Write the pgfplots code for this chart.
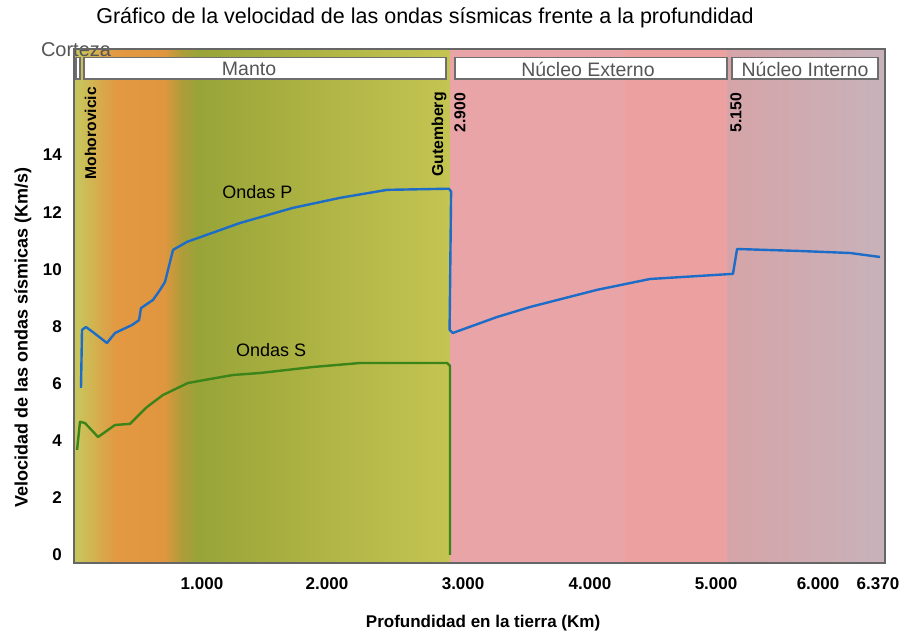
\documentclass[border=0pt]{standalone}
\usepackage{fontspec}
\setmainfont{Liberation Sans}
\usepackage{pgfplots}
\pgfplotsset{compat=1.18}
\definecolor{pcol}{RGB}{28,108,200}
\definecolor{scol}{RGB}{58,132,26}
\definecolor{crust}{RGB}{200,196,92}
\definecolor{m0}{RGB}{202,194,90}
\definecolor{m1}{RGB}{214,172,76}
\definecolor{m2}{RGB}{227,152,66}
\definecolor{m3}{RGB}{224,150,62}
\definecolor{m4}{RGB}{176,156,58}
\definecolor{m5}{RGB}{152,164,56}
\definecolor{m6}{RGB}{172,178,66}
\definecolor{m7}{RGB}{196,196,82}
\definecolor{o1}{RGB}{232,164,166}
\definecolor{o2}{RGB}{236,160,160}
\definecolor{i1}{RGB}{213,164,168}
\definecolor{i2}{RGB}{200,178,186}
\definecolor{boxgray}{RGB}{110,110,110}
\definecolor{txtgray}{RGB}{85,85,85}
\newcommand\fsz[1]{\fontsize{#1bp}{#1bp}\selectfont}
\begin{document}
\begin{tikzpicture}
\path[use as bounding box] (0,0) rectangle (907bp,639bp);
\begin{axis}[
  at={(74bp,76bp)}, anchor=south west,
  width=811bp, height=514bp, scale only axis,
  xmin=0, xmax=6370, ymin=-0.28, ymax=17.71,
  xtick={1005,1987,3056,4053,5043,5844,6315},
  xticklabels={1.000,2.000,3.000,4.000,5.000,6.000,6.370},
  ytick={0,2,4,6,8,10,12,14},
  major tick length=0pt, minor tick num=0,
  axis on top, clip=false,
  axis line style={draw=black!60, line width=1.5bp},
  tick label style={font=\fsz{17}\bfseries, /pgf/number format/assume math mode=true},
  xticklabel style={inner sep=0pt, yshift=-14bp, anchor=north},
  yticklabel style={inner sep=0pt, xshift=-12bp, anchor=east},
]
% background layers
\fill[crust] (axis cs:0,-0.28) rectangle (axis cs:52,17.71);
\shade[left color=m0, right color=m1] (axis cs:47,-0.28) rectangle (axis cs:194,17.71);
\shade[left color=m1, right color=m2] (axis cs:189,-0.28) rectangle (axis cs:330,17.71);
\shade[left color=m2, right color=m3] (axis cs:325,-0.28) rectangle (axis cs:711,17.71);
\shade[left color=m3, right color=m4] (axis cs:706,-0.28) rectangle (axis cs:842,17.71);
\shade[left color=m4, right color=m5] (axis cs:837,-0.28) rectangle (axis cs:975,17.71);
\shade[left color=m5, right color=m6] (axis cs:970,-0.28) rectangle (axis cs:1805,17.71);
\shade[left color=m6, right color=m7] (axis cs:1800,-0.28) rectangle (axis cs:2953,17.71);
\fill[o1] (axis cs:2953,-0.28) rectangle (axis cs:4335,17.71);
\fill[o2] (axis cs:4330,-0.28) rectangle (axis cs:5134,17.71);
\shade[left color=i1, right color=i2] (axis cs:5129,-0.28) rectangle (axis cs:6370,17.71);
% header boxes
\draw[fill=white, draw=boxgray, line width=1.2bp] (axis cs:16,16.66) rectangle (axis cs:47,17.40);
\draw[fill=white, draw=boxgray, line width=1.2bp] (axis cs:79,16.66) rectangle (axis cs:2922,17.40);
\draw[fill=white, draw=boxgray, line width=1.2bp] (axis cs:2993,16.66) rectangle (axis cs:5129,17.40);
\draw[fill=white, draw=boxgray, line width=1.2bp] (axis cs:5169,16.66) rectangle (axis cs:6315,17.40);
\node[font=\fsz{19.5}, text=txtgray, inner sep=0pt] at (axis cs:1375,17.01) {Manto};
\node[font=\fsz{19.5}, text=txtgray, inner sep=0pt] at (axis cs:4037,17.01) {Núcleo Externo};
\node[font=\fsz{19.5}, text=txtgray, inner sep=0pt] at (axis cs:5742,17.01) {Núcleo Interno};
\node[font=\fsz{20}, text=txtgray, inner sep=0pt] at (axis cs:16,17.7) {Corteza};
% boundary labels
\node[rotate=90, anchor=east, inner sep=0pt, font=\fsz{15.6}\bfseries] at (axis cs:130,16.38) {Mohorovicic};
\node[rotate=90, anchor=east, inner sep=0pt, font=\fsz{15.8}\bfseries] at (axis cs:2867,16.2) {Gutemberg};
\node[rotate=90, anchor=east, inner sep=0pt, font=\fsz{15.8}\bfseries] at (axis cs:3032,16.17) {2.900};
\node[rotate=90, anchor=east, inner sep=0pt, font=\fsz{15.8}\bfseries] at (axis cs:5200,16.17) {5.150};
% series
\addplot[pcol, line width=2.4bp, line join=round, mark=none] coordinates {
 (55,5.85) (63,7.88) (94,7.98) (149,7.8) (259,7.42) (322,7.77) (456,8.05) (511,8.22)
 (526,8.64) (621,8.93) (676,9.28) (715,9.56) (778,10.68) (888,10.96) (1304,11.62)
 (1720,12.15) (2089,12.5) (2459,12.78) (2945,12.82) (2962,12.72) (2950,7.88) (2975,7.77)
 (3323,8.33) (3582,8.68) (4108,9.28) (4524,9.66) (5176,9.84) (5208,10.71) (5703,10.64)
 (6095,10.57) (6331,10.43)
};
\addplot[scol, line width=2.4bp, line join=round, mark=none] coordinates {
 (24,3.68) (47,4.66) (86,4.62) (189,4.13) (322,4.55) (440,4.59) (573,5.18) (699,5.6)
 (895,6.02) (1069,6.16) (1249,6.3) (1461,6.37) (1877,6.58) (2247,6.72) (2930,6.72)
 (2953,6.62) (2953,0)
};
\node[font=\fsz{18}] at (axis cs:1441,12.71) {Ondas P};
\node[font=\fsz{18}] at (axis cs:1548,7.18) {Ondas S};
% titles and axis labels
\node[font=\fsz{21.5}] at (axis cs:2757,18.8) {Gráfico de la velocidad de las ondas sísmicas frente a la profundidad};
\node[font=\fsz{17}\bfseries] at (axis cs:3213,-2.38) {Profundidad en la tierra (Km)};
\node[font=\fsz{18}\bfseries, rotate=90] at (axis cs:-401,7.6) {Velocidad de las ondas sísmicas (Km/s)};
\end{axis}
\end{tikzpicture}
\end{document}
